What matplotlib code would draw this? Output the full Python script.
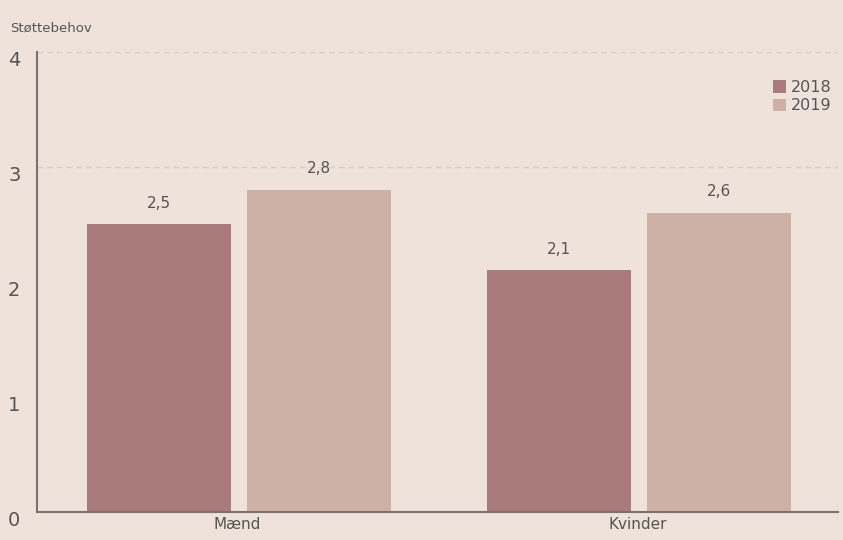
import matplotlib.pyplot as plt
import matplotlib.transforms as mtransforms
import numpy as np

# Støttebehov fordelt på køn
categories = ['Mænd', 'Kvinder']
years = ['2018', '2019']
values_2018 = [2.5, 2.1]
values_2019 = [2.8, 2.6]

bg = '#efe2da'
colors = ['#a97b7b', '#cdb1a7']

fig = plt.figure(figsize=(8.43, 5.4), dpi=100, facecolor=bg)
ax = fig.add_axes([0.044, 0.052, 0.95, 0.852], facecolor=bg)

x = np.arange(len(categories))
width = 0.36
offset = 0.2

for vals, col, lab, sgn in zip([values_2018, values_2019], colors, years, [-1, 1]):
    bars = ax.bar(x + sgn * offset + 0.004, vals, width, color=col, label=lab, zorder=2)
    for b, v in zip(bars, vals):
        ax.text(b.get_x() + b.get_width() / 2, v + 0.12, f'{v:.1f}'.replace('.', ','),
                ha='center', va='bottom', fontsize=11, color='#555555')

ax.set_xlim(-0.5, 1.5)
ax.set_ylim(0, 4)
ax.set_yticks([0, 1, 2, 3, 4])
ax.set_xticks(x)
ax.set_xticklabels(categories)

# svage stiplede hjælpelinjer
for yv in [3, 4]:
    ax.axhline(yv, color='#d9cdc6', linestyle=(0, (4, 3)), linewidth=1, zorder=1)

for s in ['top', 'right']:
    ax.spines[s].set_visible(False)
ax.spines['left'].set_color('#7a7270')
ax.spines['bottom'].set_color('#7a7270')
ax.spines['left'].set_linewidth(1.5)
ax.spines['bottom'].set_linewidth(1.5)
ax.tick_params(axis='y', length=0, labelsize=14, labelcolor='#555555', pad=12)
ax.tick_params(axis='x', length=0, labelsize=11, labelcolor='#555555', pad=4)

# flyt y-etiketterne lidt ned
shift = mtransforms.ScaledTranslation(0, -7 / 100, fig.dpi_scale_trans)
for lbl in ax.get_yticklabels():
    lbl.set_transform(lbl.get_transform() + shift)

fig.text(0.012, 0.948, 'Støttebehov', fontsize=9.5, color='#555555', ha='left', va='center')

leg = ax.legend(loc='upper right', bbox_to_anchor=(1.01, 0.97), frameon=False,
                fontsize=11.5, handlelength=0.8, handleheight=0.8, handletextpad=0.3,
                labelspacing=0.2, labelcolor='#555555')

fig.savefig('out.png', dpi=100, facecolor=bg)
